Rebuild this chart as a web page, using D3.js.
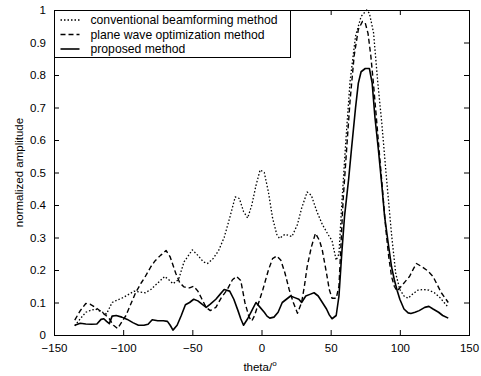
<!DOCTYPE html>
<html>
<head>
<meta charset="utf-8">
<script src="https://cdn.jsdelivr.net/npm/d3@7"></script>
<style>
body { margin: 0; background: #fff; }
svg { font-family: "Liberation Sans", Arial, sans-serif; }
</style>
</head>
<body>
<svg id="chart" width="481" height="376"></svg>
<script>
// tick values
var xTicks = [-150, -100, -50, 0, 50, 100, 150];
var yTicks = [0, 0.1, 0.2, 0.3, 0.4, 0.5, 0.6, 0.7, 0.8, 0.9, 1];

var legendNames = ["conventional beamforming method", "plane wave optimization method", "proposed method"];

// [theta, amplitude]
var conventional = [[-135,0.028],[-131,0.05],[-127,0.07],[-124,0.075],[-120,0.08],[-116,0.072],[-112,0.065],[-108,0.1],[-104,0.108],[-100,0.115],[-96,0.125],[-92,0.135],[-88,0.132],[-84,0.13],[-80,0.14],[-75,0.16],[-70,0.18],[-67,0.17],[-64,0.158],[-60,0.17],[-56,0.225],[-50,0.262],[-46,0.245],[-42,0.225],[-39,0.22],[-35,0.235],[-31,0.26],[-27,0.3],[-23,0.36],[-19,0.425],[-16,0.42],[-13,0.38],[-10,0.36],[-7,0.4],[-4,0.46],[-1,0.508],[2,0.5],[5,0.44],[8,0.36],[11,0.31],[13,0.297],[17,0.31],[22,0.303],[26,0.34],[29,0.39],[33,0.44],[36,0.43],[40,0.38],[44,0.34],[48,0.31],[51,0.29],[54,0.23],[56,0.25],[58,0.4],[61,0.6],[64,0.78],[68,0.92],[72,0.98],[76,1.0],[78,0.99],[81,0.93],[84,0.78],[87,0.65],[90,0.5],[94,0.31],[97,0.19],[100,0.14],[103,0.12],[106,0.113],[109,0.125],[113,0.138],[117,0.14],[121,0.138],[125,0.13],[129,0.115],[132,0.1],[135,0.085]];

var planeWave = [[-135,0.046],[-131,0.075],[-127,0.097],[-124,0.095],[-120,0.085],[-116,0.072],[-113,0.062],[-110,0.05],[-107,0.03],[-104,0.02],[-101,0.04],[-98,0.06],[-95,0.09],[-91,0.13],[-87,0.16],[-84,0.18],[-80,0.21],[-77,0.228],[-73,0.245],[-69,0.26],[-66,0.24],[-62,0.19],[-59,0.16],[-56,0.148],[-52,0.145],[-49,0.15],[-46,0.135],[-43,0.11],[-40,0.085],[-37,0.075],[-33,0.085],[-29,0.115],[-25,0.138],[-21,0.17],[-18,0.18],[-15,0.168],[-12,0.1],[-9,0.055],[-7,0.043],[-5,0.06],[-2,0.1],[1,0.14],[5,0.2],[8,0.235],[11,0.243],[14,0.23],[17,0.19],[20,0.14],[23,0.1],[26,0.067],[29,0.1],[31,0.15],[33,0.21],[36,0.27],[39,0.313],[42,0.29],[44,0.26],[47,0.19],[49,0.14],[51,0.113],[54,0.113],[56,0.15],[59,0.415],[62,0.6],[64,0.72],[67,0.86],[70,0.94],[73,0.965],[75,0.96],[77,0.928],[79,0.86],[81,0.77],[84,0.62],[86,0.52],[88,0.42],[90,0.32],[92,0.24],[94,0.18],[96,0.15],[98,0.135],[101,0.15],[104,0.165],[107,0.18],[110,0.205],[112,0.22],[116,0.21],[120,0.198],[124,0.18],[127,0.155],[130,0.13],[135,0.1]];

var proposed = [[-135,0.03],[-131,0.036],[-127,0.034],[-123,0.033],[-119,0.034],[-116,0.048],[-114,0.05],[-112,0.042],[-110,0.035],[-108,0.058],[-105,0.06],[-101,0.055],[-97,0.048],[-93,0.038],[-89,0.03],[-85,0.03],[-82,0.033],[-79,0.047],[-75,0.044],[-71,0.044],[-68,0.042],[-66,0.03],[-64,0.015],[-61,0.03],[-58,0.06],[-55,0.093],[-52,0.1],[-49,0.11],[-46,0.105],[-43,0.095],[-40,0.085],[-37,0.095],[-33,0.11],[-30,0.125],[-27,0.14],[-23,0.135],[-20,0.11],[-17,0.075],[-15,0.05],[-13,0.03],[-10,0.05],[-7,0.075],[-4,0.1],[-1,0.085],[2,0.07],[4,0.058],[6,0.052],[9,0.055],[12,0.07],[15,0.1],[18,0.11],[21,0.12],[24,0.115],[27,0.11],[29,0.1],[32,0.12],[35,0.125],[38,0.13],[41,0.12],[44,0.1],[47,0.08],[49,0.062],[51,0.05],[54,0.06],[56,0.12],[58,0.25],[60,0.364],[63,0.48],[65,0.57],[68,0.7],[70,0.775],[72,0.81],[75,0.82],[78,0.82],[80,0.775],[82,0.67],[84.5,0.57],[87,0.46],[89,0.364],[92,0.27],[94,0.21],[96,0.17],[98,0.138],[100,0.11],[103,0.08],[106,0.068],[108,0.066],[111,0.07],[114,0.075],[118,0.085],[121,0.088],[124,0.08],[128,0.07],[131,0.06],[135,0.052]];

var seriesList = [
	{data: conventional, dash: "1.5,2", width: 1.3},
	{data: planeWave, dash: "5,3", width: 1.4},
	{data: proposed, dash: null, width: 1.6}
];

var svg = d3.select("#chart");
var margin = {top: 10, right: 12, bottom: 41, left: 54},
	width = +svg.attr("width") - margin.left - margin.right,
	height = +svg.attr("height") - margin.top - margin.bottom,
	g = svg.append("g").attr("transform", "translate(" + margin.left + "," + margin.top + ")");

var x = d3.scaleLinear().domain([-150, 150]).range([0, width]);
var y = d3.scaleLinear().domain([0, 1]).range([height, 0]);

// axes, ticks pointing inward on all four sides
function styleAxis(sel){
	sel.select(".domain").remove();
	sel.selectAll("line").attr("stroke", "#000").attr("stroke-width", 1);
	sel.selectAll("text").attr("fill", "#000").style("font-size", "11.5px");
}
g.append("g")
	.attr("transform", "translate(0," + height + ")")
	.call(d3.axisBottom(x).tickValues(xTicks).tickSizeInner(-5).tickSizeOuter(0).tickPadding(9))
	.call(styleAxis);
g.append("g")
	.call(d3.axisTop(x).tickValues(xTicks).tickSizeInner(-5).tickSizeOuter(0).tickFormat(""))
	.call(styleAxis);
g.append("g")
	.call(d3.axisLeft(y).tickValues(yTicks).tickSizeInner(-5).tickSizeOuter(0).tickPadding(8).tickFormat(d3.format("~g")))
	.call(styleAxis);
g.append("g")
	.attr("transform", "translate(" + width + ",0)")
	.call(d3.axisRight(y).tickValues(yTicks).tickSizeInner(-5).tickSizeOuter(0).tickFormat(""))
	.call(styleAxis);

g.append("rect")
	.attr("x", 0.5).attr("y", 0.5)
	.attr("width", width).attr("height", height)
	.attr("fill", "none").attr("stroke", "#000").attr("stroke-width", 1);

var line = d3.line()
	.x(function(d){ return x(d[0]); })
	.y(function(d){ return y(d[1]); });

seriesList.forEach(function(s){
	g.append("path")
		.datum(s.data)
		.attr("fill", "none")
		.attr("stroke", "#000")
		.attr("stroke-width", s.width)
		.attr("stroke-linejoin", "round")
		.attr("stroke-dasharray", s.dash)
		.attr("d", line);
});

// legend
var lg = g.append("g").attr("transform", "translate(0.5,0.5)");
lg.append("rect")
	.attr("width", 236).attr("height", 47)
	.attr("fill", "#fff").attr("stroke", "#000").attr("stroke-width", 1);
legendNames.forEach(function(name, i){
	var ly = 9.5 + i * 14.5;
	lg.append("line")
		.attr("x1", 6).attr("x2", 25)
		.attr("y1", ly).attr("y2", ly)
		.attr("stroke", "#000")
		.attr("stroke-width", seriesList[i].width)
		.attr("stroke-dasharray", seriesList[i].dash);
	lg.append("text")
		.attr("x", 36).attr("y", ly + 4)
		.style("font-size", "12.2px")
		.attr("fill", "#000")
		.text(name);
});

// axis titles
svg.append("text")
	.attr("x", 260).attr("y", 371)
	.attr("text-anchor", "middle")
	.style("font-size", "11.5px")
	.html('theta/<tspan dy="-5" font-size="8px">o</tspan>');

svg.append("text")
	.attr("transform", "translate(23," + (margin.top + height / 2) + ") rotate(-90)")
	.attr("text-anchor", "middle")
	.style("font-size", "11.5px")
	.text("normalized amplitude");
</script>
</body>
</html>
